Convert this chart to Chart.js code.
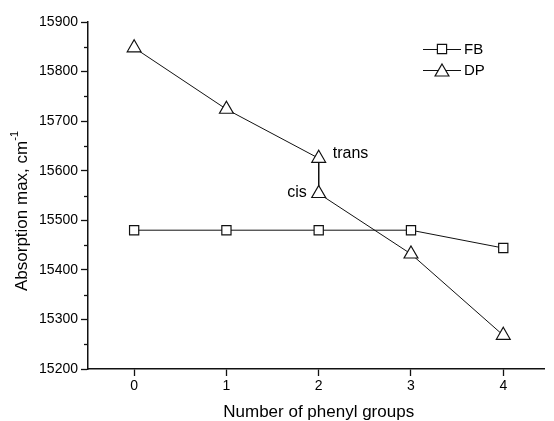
<!DOCTYPE html>
<html>
<head>
<meta charset="utf-8">
<script src="https://cdn.jsdelivr.net/npm/chart.js@4/dist/chart.umd.min.js"></script>
<style>
    html, body { margin: 0; padding: 0; background: #fff; }
    canvas { display: block; }
</style>
</head>
<body>
<canvas id="chart" width="554" height="421"></canvas>
<script>
const FONT = '"Liberation Sans", Arial, sans-serif';

// Absorption maxima against number of phenyl groups
const fbX = [0, 1, 2, 3, 4];
const fbValues = [15480, 15480, 15480, 15480, 15444];

// DP has two isomers at 2 phenyl groups (trans, then cis)
const dpX = [0, 1, 2, 2, 3, 4];
const dpValues = [15848, 15724, 15625, 15554, 15432, 15268];
const dpNotes = ['', '', 'trans', 'cis', '', ''];

const xTicks = [0, 1, 2, 3, 4];
const yTicks = [15200, 15300, 15400, 15500, 15600, 15700, 15800, 15900];

const toPoints = (xs, ys) => xs.map((x, i) => ({ x, y: ys[i] }));

function drawMarker(ctx, style, radius, x, y) {
    ctx.save();
    ctx.fillStyle = '#fff';
    ctx.strokeStyle = '#111';
    ctx.lineWidth = 1.2;
    if (Chart.helpers && Chart.helpers.drawPoint) {
        Chart.helpers.drawPoint(ctx, { pointStyle: style, radius, borderWidth: 1.2, rotation: 0 }, x, y);
    }
    ctx.restore();
}

// Minor ticks, axis titles, point notes and the legend box
const decorations = {
    id: 'decorations',
    afterDraw(chart) {
        const { ctx, chartArea, scales } = chart;
        const xs = scales.x;
        const ys = scales.y;

        ctx.save();
        ctx.strokeStyle = '#111';
        ctx.lineWidth = 1.3;
        for (let v = 15250; v < 15900; v += 100) {
            const py = Math.round(ys.getPixelForValue(v)) + 0.5;
            ctx.beginPath();
            ctx.moveTo(chartArea.left - 4, py);
            ctx.lineTo(chartArea.left, py);
            ctx.stroke();
        }

        ctx.fillStyle = '#000';
        ctx.font = '17px ' + FONT;
        ctx.textAlign = 'center';
        ctx.textBaseline = 'middle';
        ctx.fillText('Number of phenyl groups', xs.getPixelForValue(2), 412);

        // y title with superscript
        ctx.save();
        ctx.translate(22, 211);
        ctx.rotate(-Math.PI / 2);
        const main = 'Absorption max, cm';
        const sup = '-1';
        ctx.font = '17px ' + FONT;
        const mw = ctx.measureText(main).width;
        ctx.font = '11px ' + FONT;
        const sw = ctx.measureText(sup).width;
        const start = -(mw + sw) / 2;
        ctx.textAlign = 'left';
        ctx.font = '17px ' + FONT;
        ctx.fillText(main, start, 0);
        ctx.font = '11px ' + FONT;
        ctx.fillText(sup, start + mw, -7);
        ctx.restore();

        // trans / cis notes
        ctx.font = '16px ' + FONT;
        dpNotes.forEach((note, i) => {
            if (!note) return;
            const px = xs.getPixelForValue(dpX[i]);
            const py = ys.getPixelForValue(dpValues[i]);
            if (note === 'trans') {
                ctx.textAlign = 'left';
                ctx.fillText(note, px + 14, py - 5);
            } else {
                ctx.textAlign = 'right';
                ctx.fillText(note, px - 12, py - 1);
            }
        });

        // legend
        const entries = [
            { label: 'FB', style: 'rect', radius: 6.5, y: 49 },
            { label: 'DP', style: 'triangle', radius: 8, y: 70 }
        ];
        entries.forEach(entry => {
            ctx.strokeStyle = '#111';
            ctx.lineWidth = 1;
            ctx.beginPath();
            ctx.moveTo(423, entry.y + 0.5);
            ctx.lineTo(461, entry.y + 0.5);
            ctx.stroke();
            drawMarker(ctx, entry.style, entry.radius, 442, entry.style === 'triangle' ? entry.y + 2 : entry.y);
            ctx.fillStyle = '#000';
            ctx.font = '15px ' + FONT;
            ctx.textAlign = 'left';
            ctx.fillText(entry.label, 464, entry.y + 1);
        });
        ctx.restore();
    }
};

new Chart(document.getElementById('chart'), {
    type: 'line',
    data: {
        datasets: [
            {
                label: 'FB',
                data: toPoints(fbX, fbValues),
                borderColor: '#111',
                borderWidth: 1,
                pointStyle: 'rect',
                pointRadius: 6.5,
                pointBackgroundColor: '#fff',
                pointBorderColor: '#111',
                pointBorderWidth: 1.2,
                tension: 0
            },
            {
                label: 'DP',
                data: toPoints(dpX, dpValues),
                borderColor: '#111',
                borderWidth: 1,
                pointStyle: 'triangle',
                pointRadius: 8,
                pointBackgroundColor: '#fff',
                pointBorderColor: '#111',
                pointBorderWidth: 1.2,
                tension: 0
            }
        ]
    },
    options: {
        responsive: false,
        devicePixelRatio: 1,
        animation: false,
        layout: { padding: { top: 22, right: 0, left: 0, bottom: 0 } },
        plugins: {
            legend: { display: false },
            tooltip: { enabled: false }
        },
        scales: {
            x: {
                type: 'linear',
                min: -0.5,
                max: 4.45,
                afterBuildTicks: scale => { scale.ticks = xTicks.map(value => ({ value })); },
                afterFit: scale => { scale.height = 52; },
                grid: {
                    drawOnChartArea: false,
                    tickLength: 7,
                    tickColor: '#111',
                    tickWidth: 1.3
                },
                border: { display: true, color: '#111', width: 1.5 },
                ticks: {
                    color: '#000',
                    padding: 2,
                    font: { family: FONT, size: 14 },
                    callback: value => String(value)
                }
            },
            y: {
                type: 'linear',
                min: 15200,
                max: 15900,
                afterBuildTicks: scale => { scale.ticks = yTicks.map(value => ({ value })); },
                afterFit: scale => { scale.width = 88; },
                grid: {
                    drawOnChartArea: false,
                    tickLength: 7,
                    tickColor: '#111',
                    tickWidth: 1.3
                },
                border: { display: true, color: '#111', width: 1.5 },
                ticks: {
                    color: '#000',
                    padding: 3,
                    font: { family: FONT, size: 14 },
                    callback: value => String(value)
                }
            }
        }
    },
    plugins: [decorations]
});
</script>
</body>
</html>
